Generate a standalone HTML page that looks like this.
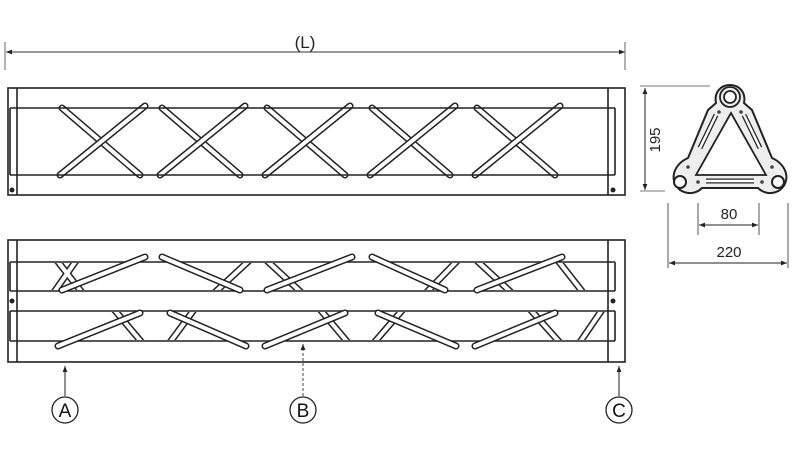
<!DOCTYPE html>
<html><head><meta charset="utf-8"><style>
html,body{margin:0;padding:0;background:#fff;}
svg{display:block;font-family:"Liberation Sans",sans-serif;}
.t1{stroke:#222;stroke-width:7;stroke-linecap:round;fill:none}
.t2{stroke:#fff;stroke-width:4;stroke-linecap:round;fill:none}
.s1{stroke:#222;stroke-width:7;fill:none}
.s2{stroke:#fff;stroke-width:4;fill:none}
.ln{stroke:#222;fill:none;stroke-width:1.6}
</style></head><body>
<svg width="795" height="460" viewBox="0 0 795 460">
<defs>
<marker id="ar" viewBox="0 0 10 10" refX="10" refY="5" markerWidth="8" markerHeight="6" orient="auto-start-reverse"><path d="M0,1 L10,5 L0,9z" fill="#222"/></marker>
<clipPath id="tb"><rect x="10" y="263" width="600" height="27"/></clipPath>
<clipPath id="bb"><rect x="10" y="312" width="600" height="28"/></clipPath>
</defs>
<!-- L dimension -->
<line x1="6" y1="52" x2="625" y2="52" stroke="#333" stroke-width="1" marker-start="url(#ar)" marker-end="url(#ar)"/>
<line x1="5" y1="42" x2="5" y2="70" stroke="#666"/>
<line x1="625" y1="42" x2="625" y2="70" stroke="#666"/>
<text x="305" y="48" font-size="17" text-anchor="middle" fill="#222">(L)</text>

<!-- TOP VIEW -->
<g>
<g id="xs">
<line class="t1" x1="62" y1="108" x2="140" y2="175"/><line class="t2" x1="62" y1="108" x2="140" y2="175"/>
<line class="t1" x1="145" y1="106" x2="60" y2="175"/><line class="t2" x1="145" y1="106" x2="60" y2="175"/>
</g>
<use href="#xs" transform="translate(100,0)"/>
<use href="#xs" transform="translate(205,0)"/>
<use href="#xs" transform="translate(310,0)"/>
<use href="#xs" transform="translate(415,0)"/>
<rect x="8" y="88" width="617" height="107" class="ln"/>
<line x1="10" y1="108" x2="615" y2="108" class="ln"/>
<line x1="10" y1="175" x2="615" y2="175" class="ln"/>
<line x1="17" y1="88" x2="17" y2="195" class="ln"/>
<line x1="608" y1="88" x2="608" y2="195" class="ln"/>
<line x1="10" y1="108" x2="10" y2="175" class="ln"/>
<line x1="615" y1="108" x2="615" y2="175" class="ln"/>
<circle cx="12" cy="190" r="2.5" fill="#222"/><circle cx="613" cy="190" r="2.5" fill="#222"/>
</g>

<!-- BOTTOM VIEW -->
<g>
<rect x="8" y="240" width="617" height="122" class="ln"/>
<line x1="10" y1="262" x2="615" y2="262" class="ln"/>
<line x1="10" y1="291" x2="615" y2="291" class="ln"/>
<line x1="10" y1="311" x2="615" y2="311" class="ln"/>
<line x1="10" y1="341" x2="615" y2="341" class="ln"/>
<line x1="17" y1="240" x2="17" y2="362" class="ln"/>
<line x1="608" y1="240" x2="608" y2="362" class="ln"/>
<line x1="10" y1="262" x2="10" y2="291" class="ln"/>
<line x1="10" y1="311" x2="10" y2="341" class="ln"/>
<line x1="615" y1="262" x2="615" y2="291" class="ln"/>
<line x1="615" y1="311" x2="615" y2="341" class="ln"/>
<circle cx="12" cy="301" r="2.5" fill="#222"/><circle cx="613" cy="301" r="2.5" fill="#222"/>
<!-- short braces top band -->
<g clip-path="url(#tb)">
<path id="sb1" d="M55,258 L84,295 M78,258 L52,295 M252,258 L212,295 M264,258 L304,295 M460,258 L424,295 M474,258 L514,295 M556,258 L585,295" class="s1"/>
<path d="M55,258 L84,295 M78,258 L52,295 M252,258 L212,295 M264,258 L304,295 M460,258 L424,295 M474,258 L514,295 M556,258 L585,295" class="s2"/>
</g>
<g clip-path="url(#bb)">
<path d="M112,307 L144,345 M168,345 L196,307 M318,307 L350,345 M372,345 L405,307 M528,307 L562,345 M578,345 L604,307" class="s1"/>
<path d="M112,307 L144,345 M168,345 L196,307 M318,307 L350,345 M372,345 L405,307 M528,307 L562,345 M578,345 L604,307" class="s2"/>
</g>
<!-- long tubes -->
<g>
<path d="M62,290 L145,257 M162,257 L240,290 M267,290 L352,257 M372,257 L445,290 M477,290 L562,257 M58,346 L140,313 M170,313 L246,346 M265,346 L345,313 M378,313 L456,346 M475,346 L555,313" class="t1"/>
<path d="M62,290 L145,257 M162,257 L240,290 M267,290 L352,257 M372,257 L445,290 M477,290 L562,257 M58,346 L140,313 M170,313 L246,346 M265,346 L345,313 M378,313 L456,346 M475,346 L555,313" class="t2"/>
</g>
</g>

<!-- A B C -->
<line x1="65" y1="396" x2="65" y2="366" stroke="#222" marker-end="url(#ar)"/>
<line x1="303" y1="396" x2="303" y2="344" stroke="#444" stroke-dasharray="3,2" marker-end="url(#ar)"/>
<line x1="619" y1="396" x2="619" y2="366" stroke="#222" marker-end="url(#ar)"/>
<g font-size="19" text-anchor="middle" fill="#111">
<circle cx="65" cy="410" r="13" fill="none" stroke="#222" stroke-width="1.3"/><text x="65" y="417">A</text>
<circle cx="303" cy="410" r="13" fill="none" stroke="#222" stroke-width="1.3"/><text x="303" y="417">B</text>
<circle cx="619" cy="410" r="13" fill="none" stroke="#222" stroke-width="1.3"/><text x="619" y="417">C</text>
</g>

<!-- SECTION -->
<g>
<line x1="640" y1="86" x2="710" y2="86" stroke="#777"/>
<line x1="640" y1="191" x2="665" y2="191" stroke="#777"/>
<line x1="645" y1="88" x2="645" y2="190" stroke="#222" marker-start="url(#ar)" marker-end="url(#ar)"/>
<text x="0" y="0" font-size="15" fill="#222" transform="translate(660,140) rotate(-90)" text-anchor="middle">195</text>
<!-- outer body -->
<path d="M730,85 C740,85 746,93 744,103 L752,110 L772,158 C786,164 792,180 780,190 C770,196 762,192 758,188 L702,188 C698,192 690,196 680,190 C668,180 674,164 688,158 L708,110 L716,103 C714,93 720,85 730,85Z" fill="#eee" stroke="#222" stroke-width="2"/>
<path d="M731,113 L766,175 L696,175 Z" fill="#fff" stroke="#222" stroke-width="1.8"/>
<!-- arm slots -->
<path d="M716,115 L700,148 M744,115 L760,148 M706,181 L754,181" stroke="#222" stroke-width="5"/>
<path d="M716,115 L700,148 M744,115 L760,148 M706,181 L754,181" stroke="#fff" stroke-width="2.5"/>
<circle cx="730" cy="97" r="10" fill="#eee" stroke="#222" stroke-width="1.8"/>
<circle cx="730" cy="97" r="6" fill="#fff" stroke="#222" stroke-width="1.8"/>
<circle cx="680" cy="182" r="6" fill="#fff" stroke="#222" stroke-width="2"/>
<circle cx="778" cy="182" r="6" fill="#fff" stroke="#222" stroke-width="2"/>
<g fill="#444"><circle cx="719" cy="112" r="1.8"/><circle cx="741" cy="112" r="1.8"/><circle cx="688" cy="167" r="1.8"/><circle cx="772" cy="167" r="1.8"/><circle cx="698" cy="182" r="1.8"/><circle cx="762" cy="182" r="1.8"/></g>
<line x1="698" y1="203" x2="698" y2="235" stroke="#555"/>
<line x1="759" y1="203" x2="759" y2="235" stroke="#555"/>
<line x1="699" y1="225" x2="758" y2="225" stroke="#222" marker-start="url(#ar)" marker-end="url(#ar)"/>
<text x="729" y="219" font-size="15" text-anchor="middle" fill="#222">80</text>
<line x1="668" y1="203" x2="668" y2="268" stroke="#555"/>
<line x1="788" y1="203" x2="788" y2="268" stroke="#555"/>
<line x1="669" y1="263" x2="787" y2="263" stroke="#222" marker-start="url(#ar)" marker-end="url(#ar)"/>
<text x="729" y="257" font-size="15" text-anchor="middle" fill="#222">220</text>
</g>
</svg>
</body></html>
